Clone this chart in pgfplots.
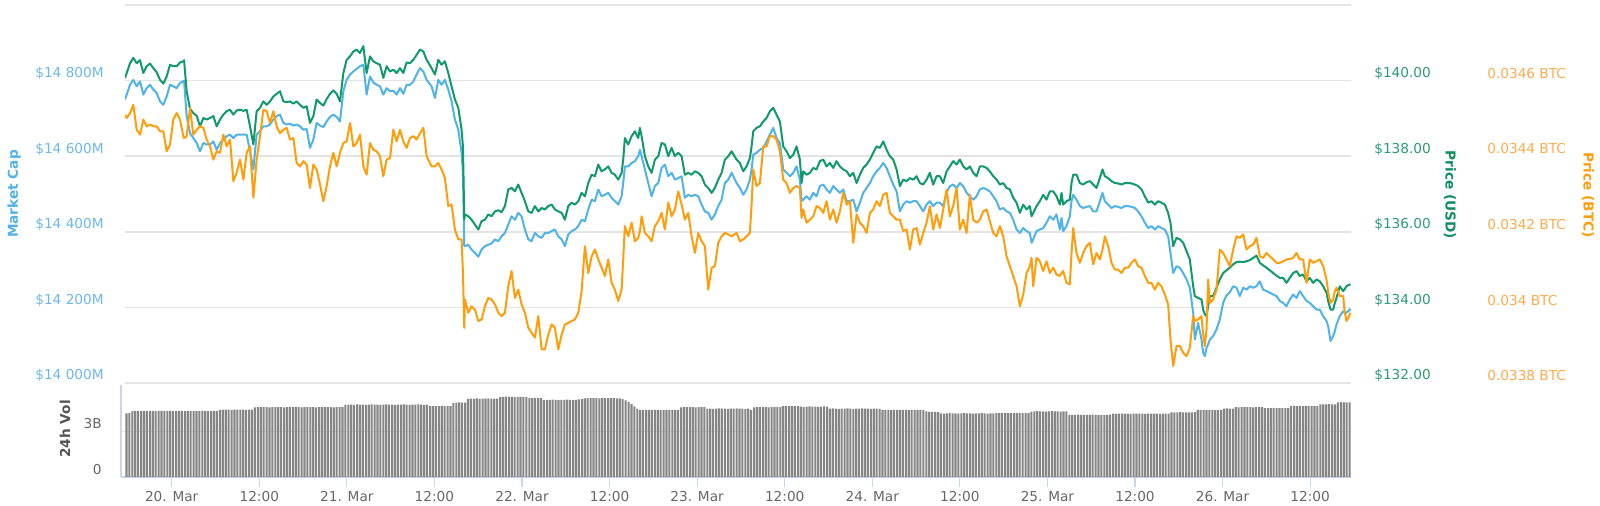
\documentclass[border=0pt]{standalone}
\usepackage{fontspec}
\setmainfont{DejaVu Sans}
\usepackage{pgfplots}
\usepackage{pgfplotstable}
\pgfplotsset{compat=1.18}
\definecolor{mcapc}{HTML}{4FB3E8}
\definecolor{usdc}{HTML}{10996A}
\definecolor{btcc}{HTML}{FF9D0A}
\definecolor{mcapl}{HTML}{6CB8EA}
\definecolor{usdl}{HTML}{2A9C70}
\definecolor{btcl}{HTML}{FFAA4D}
\definecolor{usdt}{HTML}{0E8F60}
\definecolor{gridc}{HTML}{E4E4E4}
\definecolor{axc}{HTML}{CCD6EB}
\definecolor{labc}{HTML}{666666}
\definecolor{volt}{HTML}{555555}
\definecolor{volc}{HTML}{858585}
\newcommand\lblfont{\fontsize{8.2}{10}\selectfont}
\newcommand\ttlfont{\fontsize{8.2}{10}\selectfont\bfseries}

\pgfplotstableread{
h usd mcap btc
-6.40 140.07 14750 0.034510
-6.17 140.20 14763 0.034501
-5.71 140.46 14789 0.034514
-5.26 140.60 14802 0.034536
-4.80 140.46 14785 0.034470
-4.34 140.54 14798 0.034457
-3.89 140.20 14763 0.034497
-3.43 140.38 14780 0.034479
-2.97 140.45 14789 0.034484
-2.52 140.33 14776 0.034479
-2.06 140.22 14767 0.034479
-1.60 140.02 14745 0.034466
-1.15 139.92 14736 0.034466
-0.69 140.11 14758 0.034413
-0.23 140.42 14789 0.034431
0.22 140.38 14785 0.034497
0.68 140.38 14780 0.034514
1.14 140.48 14794 0.034497
1.59 140.51 14798 0.034453
1.69 140.54 14800 0.034448
2.05 139.72 14706 0.034453
2.51 139.25 14661 0.034528
2.96 139.14 14648 0.034457
3.42 139.07 14635 0.034470
3.88 138.79 14613 0.034479
4.34 139.01 14635 0.034475
4.79 138.97 14631 0.034444
5.25 139.01 14631 0.034426
5.71 139.06 14639 0.034391
6.16 138.79 14617 0.034413
6.62 138.97 14635 0.034409
7.08 139.10 14644 0.034457
7.53 139.19 14653 0.034426
7.99 139.23 14657 0.034444
8.45 139.10 14648 0.034334
8.90 139.21 14657 0.034356
9.36 139.23 14657 0.034391
9.82 139.20 14657 0.034338
10.27 139.23 14657 0.034409
10.73 138.79 14613 0.034426
11.19 138.31 14565 0.034290
11.64 139.19 14657 0.034391
12.10 139.28 14666 0.034453
12.56 139.45 14679 0.034523
13.01 139.36 14679 0.034519
13.47 139.45 14684 0.034488
13.93 139.58 14697 0.034519
14.38 139.65 14706 0.034479
14.84 139.72 14710 0.034461
15.30 139.45 14688 0.034470
15.75 139.43 14684 0.034475
16.21 139.45 14686 0.034444
16.67 139.39 14681 0.034448
17.12 139.45 14684 0.034382
17.58 139.36 14679 0.034373
18.04 139.28 14670 0.034387
18.49 139.32 14672 0.034378
18.95 138.88 14622 0.034316
19.41 139.06 14644 0.034378
19.86 139.50 14688 0.034365
20.32 139.41 14681 0.034325
20.78 139.34 14677 0.034281
21.23 139.51 14692 0.034321
21.69 139.65 14704 0.034373
22.15 139.74 14710 0.034409
22.60 139.65 14704 0.034373
23.06 139.45 14692 0.034409
23.52 140.20 14772 0.034435
23.97 140.55 14802 0.034439
24.43 140.64 14816 0.034488
24.89 140.77 14824 0.034426
25.34 140.82 14831 0.034435
25.80 140.73 14838 0.034457
26.26 140.91 14842 0.034373
26.71 140.20 14763 0.034351
27.17 140.64 14811 0.034435
27.63 140.51 14795 0.034417
28.08 140.46 14789 0.034413
28.54 140.42 14785 0.034400
29.00 140.07 14763 0.034347
29.45 140.38 14780 0.034391
29.91 140.24 14772 0.034395
30.37 140.29 14773 0.034470
30.82 140.20 14763 0.034439
31.28 140.33 14780 0.034470
31.74 140.20 14765 0.034439
32.19 140.48 14789 0.034422
32.65 140.46 14789 0.034448
33.11 140.55 14798 0.034453
33.56 140.68 14816 0.034444
34.02 140.82 14833 0.034461
34.48 140.77 14824 0.034475
34.93 140.55 14802 0.034400
35.61 140.33 14785 0.034373
36.07 140.16 14754 0.034373
36.53 140.55 14802 0.034382
36.98 140.42 14789 0.034365
37.44 140.51 14802 0.034342
37.90 140.20 14776 0.034268
38.35 139.85 14745 0.034272
38.81 139.50 14697 0.034206
39.27 139.28 14670 0.034180
39.72 138.70 14609 0.034180
39.91 138.26 14556 0.034091
40.09 136.32 14362 0.033946
40.18 136.46 14362 0.034021
40.64 136.41 14366 0.033986
41.09 136.32 14353 0.034003
41.55 136.19 14344 0.033994
42.01 136.06 14334 0.033964
42.46 136.28 14353 0.033968
42.92 136.32 14362 0.034003
43.38 136.46 14366 0.034025
43.83 136.41 14369 0.034021
44.29 136.54 14380 0.034008
44.75 136.57 14375 0.033986
45.20 136.52 14388 0.033977
45.66 136.68 14397 0.033986
46.12 137.12 14419 0.034056
46.57 137.16 14441 0.034096
47.03 137.07 14432 0.034025
47.49 137.25 14450 0.034047
47.94 137.03 14441 0.034008
48.40 136.81 14406 0.033986
48.86 136.54 14380 0.033946
49.31 136.50 14375 0.033933
49.77 136.68 14397 0.033920
50.23 136.54 14388 0.033977
50.69 136.63 14384 0.033889
51.14 136.59 14397 0.033889
51.60 136.68 14397 0.033928
52.06 136.72 14402 0.033955
52.51 136.59 14406 0.033946
52.97 136.54 14388 0.033889
53.43 136.50 14380 0.033928
53.88 136.32 14362 0.033955
54.34 136.68 14393 0.033959
54.80 136.77 14402 0.033964
55.25 136.72 14406 0.033968
55.71 136.81 14415 0.033986
56.17 137.03 14432 0.034043
56.62 136.94 14428 0.034162
57.08 137.29 14459 0.034091
57.54 137.51 14485 0.034135
57.99 137.47 14481 0.034153
58.45 137.78 14512 0.034127
58.91 137.60 14494 0.034105
59.36 137.65 14498 0.034083
59.82 137.73 14503 0.034127
60.28 137.56 14490 0.034065
60.73 137.51 14481 0.034047
61.19 137.38 14472 0.034017
61.65 137.56 14494 0.034047
61.87 137.91 14529 0.034127
62.10 138.48 14573 0.034215
62.56 138.31 14573 0.034188
63.02 138.53 14582 0.034224
63.47 138.66 14587 0.034175
63.93 138.48 14600 0.034184
64.16 138.75 14617 0.034202
64.39 138.53 14600 0.034241
64.84 138.00 14565 0.034197
65.30 137.73 14529 0.034188
65.76 137.56 14494 0.034175
66.21 137.91 14521 0.034215
66.67 138.00 14529 0.034228
67.13 138.35 14569 0.034250
67.58 138.31 14578 0.034206
68.04 138.00 14547 0.034277
68.50 138.22 14556 0.034241
68.95 138.00 14538 0.034259
69.41 138.09 14542 0.034307
69.87 138.00 14547 0.034272
70.32 137.51 14490 0.034232
70.78 137.56 14498 0.034250
71.24 137.51 14494 0.034188
71.69 137.60 14498 0.034144
72.15 137.56 14494 0.034197
72.61 137.47 14472 0.034175
73.06 137.25 14454 0.034162
73.52 137.16 14450 0.034047
73.98 137.03 14432 0.034105
74.43 137.16 14446 0.034109
74.89 137.38 14468 0.034171
75.35 137.56 14485 0.034188
75.80 137.91 14529 0.034197
76.26 138.00 14538 0.034193
76.72 138.13 14556 0.034188
77.40 137.91 14529 0.034197
77.86 137.82 14516 0.034175
78.32 137.60 14498 0.034180
78.77 137.73 14512 0.034188
79.23 137.95 14538 0.034197
79.46 138.26 14565 0.034272
79.69 138.66 14604 0.034365
80.14 138.75 14609 0.034321
80.60 138.79 14617 0.034329
81.06 138.92 14622 0.034426
81.51 139.01 14639 0.034426
81.97 139.19 14657 0.034453
82.43 139.28 14675 0.034453
82.88 139.10 14648 0.034444
83.34 138.92 14635 0.034413
83.80 138.26 14565 0.034338
84.25 138.13 14556 0.034329
84.71 137.95 14547 0.034303
85.17 138.04 14556 0.034316
85.62 138.26 14573 0.034321
86.08 137.91 14538 0.034316
86.31 137.29 14481 0.034237
86.54 137.60 14485 0.034259
86.99 137.51 14494 0.034224
87.45 137.56 14485 0.034232
87.91 137.69 14503 0.034241
88.36 137.65 14494 0.034268
88.82 137.87 14521 0.034263
89.28 137.91 14525 0.034250
89.73 137.73 14512 0.034281
90.19 137.82 14503 0.034232
90.65 137.69 14521 0.034259
91.10 137.87 14512 0.034224
91.56 137.73 14503 0.034254
92.02 137.65 14512 0.034303
92.48 137.60 14481 0.034272
92.93 137.47 14481 0.034281
93.39 137.56 14485 0.034171
93.85 137.29 14454 0.034246
94.30 137.51 14477 0.034224
94.76 137.69 14503 0.034215
95.22 137.78 14516 0.034197
95.67 137.91 14529 0.034250
96.13 138.09 14547 0.034259
96.59 138.26 14560 0.034281
97.04 138.22 14569 0.034268
97.50 138.39 14582 0.034298
97.96 138.17 14569 0.034303
98.41 138.00 14547 0.034250
98.87 137.91 14525 0.034241
99.33 137.65 14507 0.034232
99.78 137.21 14454 0.034232
100.24 137.38 14472 0.034202
100.70 137.34 14481 0.034206
101.15 137.42 14477 0.034153
101.61 137.38 14481 0.034206
102.07 137.47 14481 0.034210
102.52 137.29 14468 0.034166
102.98 137.25 14454 0.034197
103.44 137.38 14472 0.034224
103.89 137.56 14481 0.034268
104.35 137.25 14468 0.034206
104.81 137.47 14477 0.034246
105.26 137.47 14477 0.034210
105.72 137.29 14468 0.034259
106.18 137.60 14503 0.034312
106.63 137.73 14521 0.034241
107.09 137.87 14525 0.034268
107.55 137.78 14516 0.034316
108.00 137.91 14529 0.034206
108.46 137.73 14521 0.034232
108.92 137.65 14503 0.034197
109.37 137.73 14494 0.034298
109.83 137.56 14485 0.034232
110.29 137.47 14494 0.034224
110.74 137.73 14512 0.034232
111.20 137.73 14516 0.034254
111.66 137.69 14512 0.034259
112.11 137.60 14507 0.034228
112.57 137.47 14494 0.034197
113.03 137.38 14481 0.034188
113.48 137.25 14459 0.034215
113.94 137.29 14463 0.034188
114.40 137.16 14454 0.034135
114.85 137.12 14450 0.034109
115.31 136.90 14432 0.034083
115.77 136.77 14406 0.034056
116.22 136.50 14397 0.034003
116.68 136.72 14410 0.034034
117.14 136.59 14402 0.034091
117.59 136.68 14397 0.034109
117.82 136.41 14371 0.034131
118.05 136.50 14380 0.034056
118.51 136.68 14402 0.034131
118.96 136.81 14406 0.034122
119.42 136.98 14410 0.034096
119.87 136.85 14424 0.034122
120.33 137.07 14441 0.034091
120.79 137.07 14432 0.034105
121.24 136.94 14446 0.034087
121.70 136.72 14406 0.034083
121.93 137.03 14437 0.034091
122.16 136.72 14402 0.034096
122.61 136.81 14415 0.034065
123.07 136.85 14441 0.034061
123.30 137.29 14481 0.034144
123.53 137.51 14498 0.034210
123.98 137.51 14485 0.034144
124.44 137.29 14468 0.034118
124.90 137.25 14463 0.034144
125.35 137.31 14466 0.034162
125.81 137.34 14468 0.034171
126.27 137.25 14454 0.034114
126.72 137.16 14454 0.034144
127.18 137.42 14481 0.034127
127.55 137.65 14503 0.034153
127.87 137.47 14481 0.034188
128.32 137.42 14472 0.034162
128.78 137.34 14463 0.034118
129.24 137.29 14468 0.034100
129.69 137.28 14466 0.034100
130.15 137.25 14463 0.034091
130.61 137.29 14468 0.034105
131.06 137.29 14468 0.034105
131.52 137.28 14466 0.034118
131.98 137.25 14463 0.034127
132.43 137.21 14454 0.034109
132.89 137.12 14441 0.034105
133.35 136.94 14424 0.034083
133.80 136.77 14410 0.034065
134.26 136.81 14415 0.034065
134.72 136.72 14406 0.034047
135.17 136.81 14415 0.034065
135.63 136.77 14410 0.034056
136.09 136.72 14406 0.034034
136.54 136.50 14388 0.034008
136.86 136.24 14344 0.033915
137.23 135.62 14291 0.033845
137.69 135.84 14309 0.033898
138.14 135.80 14305 0.033898
138.60 135.71 14291 0.033880
139.06 135.49 14274 0.033871
139.51 135.27 14252 0.033893
139.97 134.56 14186 0.033977
140.20 134.30 14115 0.033964
140.65 134.25 14159 0.033968
141.11 134.21 14115 0.033977
141.34 133.94 14080 0.033928
141.57 133.81 14071 0.033898
141.80 133.77 14093 0.033942
142.02 134.03 14102 0.034074
142.25 134.30 14115 0.034012
142.71 134.30 14124 0.034021
143.17 134.52 14142 0.034047
143.62 134.74 14168 0.034153
144.08 134.91 14212 0.034144
144.54 134.98 14232 0.034127
144.99 135.05 14240 0.034109
145.45 135.14 14256 0.034153
145.91 135.20 14252 0.034188
146.36 135.21 14230 0.034184
146.82 135.20 14252 0.034193
147.28 135.22 14247 0.034153
147.73 135.25 14256 0.034162
148.19 135.31 14252 0.034166
148.65 135.37 14256 0.034184
149.10 135.18 14269 0.034135
149.56 135.11 14247 0.034131
150.02 135.05 14243 0.034144
150.47 134.98 14239 0.034135
150.93 134.91 14234 0.034127
151.39 134.84 14230 0.034118
151.84 134.78 14217 0.034118
152.30 134.78 14212 0.034122
152.76 134.65 14203 0.034127
153.21 134.78 14221 0.034128
153.67 134.91 14234 0.034131
154.13 134.96 14225 0.034144
154.58 134.83 14243 0.034127
155.04 134.87 14230 0.034127
155.50 134.69 14217 0.034065
155.95 134.78 14212 0.034127
156.41 134.65 14203 0.034118
156.87 134.74 14194 0.034122
157.32 134.69 14194 0.034127
157.78 134.56 14177 0.034109
158.24 134.39 14164 0.034074
158.47 134.17 14150 0.034039
158.79 133.94 14111 0.034012
159.15 133.94 14124 0.034021
159.38 134.12 14137 0.034043
159.61 134.25 14155 0.034052
160.06 134.56 14177 0.034030
160.52 134.43 14190 0.034030
160.75 134.49 14187 0.033986
160.98 134.56 14186 0.033964
161.21 134.59 14190 0.033972
161.53 134.61 14196 0.033986
}\pricedata

\pgfplotstableread[row sep=\\]{
v\\
4.15\\4.18\\
4.29\\4.31\\4.31\\4.30\\4.32\\4.31\\4.31\\4.30\\4.31\\4.32\\
4.31\\4.30\\4.31\\4.31\\4.29\\4.31\\4.32\\4.31\\4.30\\4.31\\
4.31\\4.32\\4.30\\4.31\\4.31\\4.31\\4.30\\4.32\\4.31\\4.31\\
4.38\\4.39\\4.40\\4.39\\4.38\\4.39\\4.40\\4.39\\4.39\\4.38\\4.40\\4.39\\
4.54\\4.55\\4.56\\4.55\\4.55\\4.54\\4.56\\4.55\\4.55\\4.55\\
4.54\\4.55\\4.56\\4.55\\4.55\\4.55\\4.54\\4.55\\4.56\\4.55\\
4.55\\4.54\\4.55\\4.56\\4.55\\4.55\\4.55\\4.54\\4.55\\4.56\\
4.55\\
4.70\\4.72\\4.72\\4.71\\4.73\\4.72\\4.72\\4.71\\4.72\\4.73\\
4.72\\4.72\\4.71\\4.72\\4.73\\4.72\\4.72\\4.71\\4.72\\4.72\\
4.73\\4.72\\4.71\\4.72\\4.72\\4.73\\4.72\\4.71\\4.72\\
4.63\\4.62\\4.63\\4.63\\4.64\\4.63\\4.62\\4.63\\
4.84\\4.85\\4.86\\4.85\\4.85\\
5.09\\5.11\\5.11\\5.12\\5.10\\5.11\\5.11\\5.12\\5.11\\5.10\\5.11\\
5.21\\5.23\\5.24\\5.22\\5.22\\5.21\\5.23\\5.22\\5.22\\5.21\\
5.16\\5.15\\5.15\\5.14\\5.15\\
5.03\\5.02\\5.03\\5.04\\5.03\\5.02\\5.03\\5.03\\5.04\\5.03\\5.02\\5.03\\5.06\\5.08\\
5.13\\5.14\\5.14\\5.15\\5.14\\5.13\\5.14\\5.14\\5.15\\5.14\\5.14\\5.13\\5.12\\
5.08\\5.00\\4.90\\4.75\\4.60\\4.46\\4.38\\
4.37\\4.36\\4.37\\4.37\\4.38\\4.37\\4.36\\4.37\\4.37\\4.38\\4.37\\4.37\\4.36\\
4.54\\4.55\\4.56\\4.55\\4.55\\4.54\\4.55\\4.56\\4.55\\
4.46\\4.46\\4.45\\4.46\\4.47\\4.46\\4.46\\4.45\\4.46\\4.46\\4.47\\4.46\\4.46\\4.45\\4.46\\
4.38\\
4.54\\4.55\\4.56\\4.55\\4.55\\4.54\\4.55\\4.56\\4.55\\4.55\\
4.63\\4.64\\4.63\\4.62\\4.63\\4.63\\
4.59\\4.58\\4.59\\4.60\\4.59\\4.59\\4.58\\4.59\\4.60\\4.59\\
4.46\\4.47\\4.46\\4.45\\4.46\\4.46\\4.47\\4.46\\4.45\\4.46\\
4.46\\4.47\\4.46\\4.46\\4.45\\4.46\\4.46\\4.45\\
4.37\\4.38\\4.37\\4.36\\4.37\\4.37\\4.38\\4.37\\4.37\\4.36\\4.37\\4.37\\4.38\\4.37\\4.37\\
4.28\\4.25\\4.24\\4.24\\4.23\\
4.15\\4.14\\4.15\\4.16\\4.15\\4.15\\4.14\\4.15\\4.16\\4.15\\
4.15\\4.14\\4.15\\4.15\\4.16\\4.15\\4.14\\4.15\\4.15\\4.16\\
4.17\\4.17\\4.18\\4.17\\4.16\\4.17\\4.17\\4.18\\4.17\\4.17\\4.17\\
4.27\\4.28\\4.29\\4.28\\4.28\\4.27\\4.28\\4.29\\4.28\\4.28\\4.27\\4.28\\4.28\\
4.06\\4.05\\4.06\\4.07\\4.06\\4.06\\4.05\\4.06\\4.07\\4.06\\4.06\\4.05\\4.06\\4.06\\4.07\\
4.13\\4.12\\4.13\\4.14\\4.13\\4.13\\4.12\\4.13\\4.14\\4.13\\
4.13\\4.12\\4.13\\4.13\\4.14\\4.13\\4.12\\4.13\\4.13\\4.14\\
4.22\\4.21\\4.22\\4.23\\4.22\\4.22\\4.21\\4.22\\4.23\\
4.37\\4.36\\4.37\\4.38\\4.37\\4.37\\4.36\\4.37\\4.38\\
4.46\\4.47\\4.46\\4.46\\
4.55\\4.54\\4.55\\4.56\\4.55\\4.55\\4.54\\4.55\\4.56\\4.55\\
4.50\\4.49\\4.50\\4.51\\4.50\\4.50\\4.49\\4.50\\4.51\\
4.63\\4.62\\4.63\\4.64\\4.63\\4.63\\4.62\\4.63\\4.64\\4.63\\
4.74\\4.73\\4.74\\4.75\\4.74\\4.74\\
4.87\\4.88\\4.87\\4.86\\4.87\\
}\voldata

\pgfplotsset{
  mainpanel/.style={
    at={(75pt,73.2pt)}, anchor=south west, scale only axis,
    width=735.6pt, height=226.8pt,
    xmin=-6.4, xmax=161.6,
    axis line style={draw=none}, xtick=\empty,
    major tick length=0pt,
    scaled x ticks=false, scaled y ticks=false,
  },
}

\begin{document}
\begin{tikzpicture}
\path[use as bounding box] (0,0) rectangle (960pt,303pt);

% Market cap (left axis, grid)
\begin{axis}[mainpanel,
  ymin=14000, ymax=15000,
  ytick={14000,14200,14400,14600,14800},
  yticklabels={\$14 000M,\$14 200M,\$14 400M,\$14 600M,\$14 800M},
  ymajorgrids, major grid style={gridc, line width=0.9pt},
  yticklabel style={font=\lblfont, text=mcapl, anchor=east, inner sep=0pt, xshift=-12.6pt, yshift=4.4pt},
]
\draw[gridc, line width=0.9pt] (rel axis cs:0,1) -- (rel axis cs:1,1);
\addplot[mcapc, line width=1.2pt, line join=round, no marks] table[x=h, y=mcap]{\pricedata};
\end{axis}

% Price USD
\begin{axis}[mainpanel,
  ymin=132, ymax=142,
  ytick={132,134,136,138,140},
  yticklabels={\$132.00,\$134.00,\$136.00,\$138.00,\$140.00},
  yticklabel pos=right,
  yticklabel style={font=\lblfont, text=usdl, anchor=west, inner sep=0pt, xshift=13.8pt, yshift=4.4pt},
]
\addplot[usdc, line width=1.2pt, line join=round, no marks] table[x=h, y=usd]{\pricedata};
\end{axis}

% Price BTC
\begin{axis}[mainpanel,
  ymin=0.0338, ymax=0.0348,
  ytick={0.0338,0.034,0.0342,0.0344,0.0346},
  yticklabels={0.0338 BTC,0.034 BTC,0.0342 BTC,0.0344 BTC,0.0346 BTC},
  yticklabel pos=right,
  yticklabel style={font=\lblfont, text=btcl, anchor=west, inner sep=0pt, xshift=81.6pt, yshift=4.4pt},
]
\addplot[btcc, line width=1.2pt, line join=round, no marks] table[x=h, y=btc]{\pricedata};
\end{axis}

% Volume panel
\begin{axis}[
  at={(72.6pt,16.8pt)}, anchor=south west, scale only axis,
  width=738pt, height=55.2pt,
  xmin=-6.948, xmax=161.6, ymin=0, ymax=6,
  scaled x ticks=false, scaled y ticks=false,
  axis x line*=bottom, axis y line*=left,
  axis line style={axc, line width=0.7pt},
  xtick={0,12,...,156},
  xticklabels={20. Mar,12:00,21. Mar,12:00,22. Mar,12:00,23. Mar,12:00,24. Mar,12:00,25. Mar,12:00,26. Mar,12:00},
  major tick length=6pt,
  x tick style={axc, line width=0.7pt, yshift=-6pt},
  y tick style={draw=none},
  ytick={0,3}, yticklabels={0,3B},
  ymajorgrids, major grid style={gridc, line width=0.6pt},
  xticklabel style={font=\lblfont, text=labc, anchor=center, inner sep=0pt, yshift=-12pt},
  yticklabel style={font=\lblfont, text=labc, anchor=east, inner sep=0pt, xshift=-11.4pt, yshift=4.6pt},
]
\addplot[ybar, bar width=1.25pt, bar shift=0pt, fill=volc, draw=none]
  table[x expr=\coordindex*0.4-6.2, y=v]{\voldata};
\end{axis}

% axis titles
\node[rotate=90, text=mcapc, font=\ttlfont] at (8.4pt,186.6pt) {Market Cap};
\node[rotate=-90, text=usdt, font=\ttlfont] at (870pt,186pt) {Price (USD)};
\node[rotate=-90, text=btcc, font=\ttlfont] at (952.8pt,186pt) {Price (BTC)};
\node[rotate=90, text=volt, font=\ttlfont] at (39pt,45.6pt) {24h Vol};
\end{tikzpicture}
\end{document}
